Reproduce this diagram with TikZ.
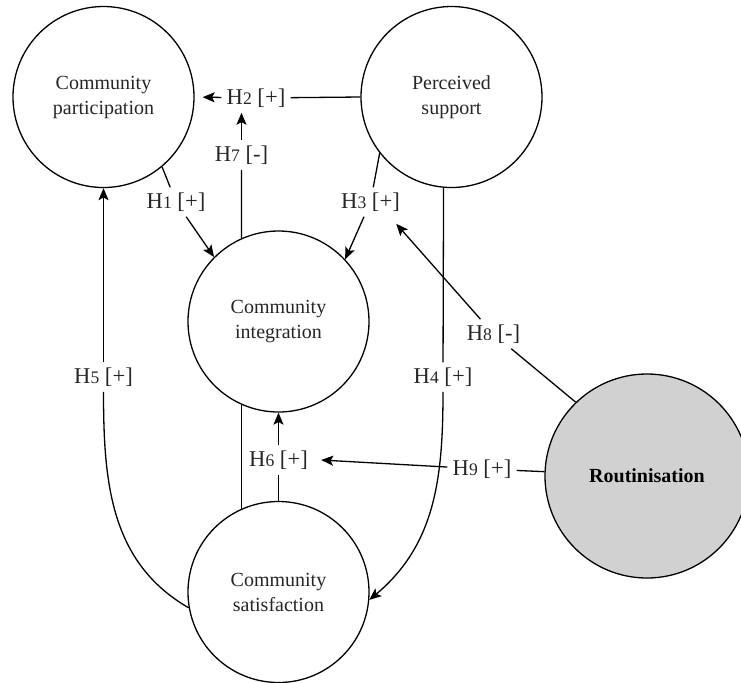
\documentclass[tikz,border=0pt]{standalone}
\usepackage{fontspec}
\setmainfont{Liberation Serif}
\usetikzlibrary{arrows.meta}
\newcommand{\hip}[2]{H{\fontsize{8.8}{10}\selectfont #1}\ [#2]}

\begin{document}
\begin{tikzpicture}[
    x=0.5pt, y=-0.5pt,
    font=\fontsize{10}{12.5}\selectfont,
    constructo/.style={circle, draw=black, line width=0.65pt, minimum size=90.5pt, inner sep=0pt,
                       align=center, text=black!85},
    moderador/.style ={constructo, fill=black!18, minimum size=102pt,
                       font=\fontsize{10}{12.5}\selectfont\bfseries, text=black},
    hip/.style       ={inner sep=2.5pt, text=black!85, font=\fontsize{11.3}{13}\selectfont},
    ln/.style        ={draw=black, line width=0.65pt},
    fl/.style        ={ln, -{Stealth[length=6pt,width=5pt,inset=1.3pt]}}
  ]
  \useasboundingbox (0,0) rectangle (741,682);
  \clip (0,0) rectangle (741,682);

  % --- constructos --------------------------------------------------------
  \node[constructo] (cp) at (103.5, 97.0) {Community\\participation};
  \node[constructo] (ps) at (451.5, 97.0) {Perceived\\support};
  \node[constructo] (ci) at (278.5,321.5) {Community\\integration};
  \node[constructo] (cs) at (278.5,592.0) {Community\\satisfaction};
  \node[moderador]  (ro) at (647.0,476.0) {Routinisation};

  % --- hipotesis ----------------------------------------------------------
  \node[hip] (h1) at (176.0,202.0) {\hip{1}{+}};
  \node[hip] (h2) at (256.0, 98.0) {\hip{2}{+}};
  \node[hip] (h3) at (370.5,202.0) {\hip{3}{+}};
  \node[hip] (h4) at (443.0,377.0) {\hip{4}{+}};
  \node[hip] (h5) at (103.5,377.0) {\hip{5}{+}};
  \node[hip] (h6) at (278.5,460.0) {\hip{6}{+}};
  \node[hip] (h7) at (241.5,155.0) {\hip{7}{-}};
  \node[hip] (h8) at (493.5,334.0) {\hip{8}{-}};
  \node[hip] (h9) at (482.0,469.0) {\hip{9}{+}};

  % --- relaciones ---------------------------------------------------------
  \draw[ln] (cp.-50) -- (h1);   \draw[fl] (h1) -- (ci.135);
  \draw[ln] (ps.west) -- (h2);  \draw[fl, shorten >=4pt] (h2) -- (cp.east);
  \draw[ln] (ps.218) -- (h3);   \draw[fl] (h3) -- (ci.43);
  \draw[ln] (ps.-95) -- (h4);   \draw[fl] (h4) to[out=-90, in=40] (cs.-5);
  \draw[ln] (cs.190) to[out=150, in=-90] (h5);
  \draw[fl] (h5) -- (cp.south);
  \draw[ln] (cs.north) -- (h6); \draw[fl] (h6) -- (ci.south);
  \draw[ln] (ci.114) -- (h7);   \draw[fl] (h7) -- (h7 |- h2.south);
  \draw[ln] (ro.134) -- (h8);   \draw[fl] (h8) -- ([xshift=-4.5pt,yshift=-3.5pt]h3.south east);
  \draw[ln] (ro) -- (h9);       \draw[fl] (h9) -- ([xshift=4pt]h6.east);
  \draw[ln] (ci.-114) -- (cs.114);

\end{tikzpicture}
\end{document}
